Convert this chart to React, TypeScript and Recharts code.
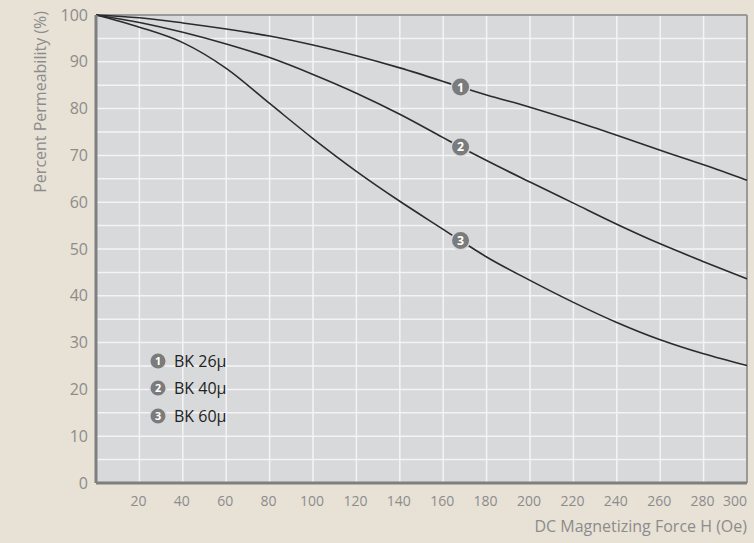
import { LineChart, Line, XAxis, YAxis, CartesianGrid, ReferenceLine, Label } from 'recharts';

// DC magnetizing force (Oe) and percent permeability
const forceOe = [0, 20, 40, 60, 80, 100, 120, 140, 160, 168, 180, 200, 220, 240, 260, 280, 300];
const bk26 = [100, 99.4, 98.3, 97.0, 95.5, 93.6, 91.3, 88.7, 85.8, 84.6, 82.9, 80.3, 77.4, 74.3, 71.1, 68.0, 64.7];
const bk40 = [100, 98.4, 96.3, 93.8, 90.9, 87.3, 83.3, 78.8, 73.8, 71.8, 68.9, 64.3, 59.8, 55.3, 51.1, 47.3, 43.6];
const bk60 = [100, 97.4, 94.1, 88.6, 81.1, 73.6, 66.6, 60.2, 54.2, 51.8, 48.3, 43.3, 38.6, 34.3, 30.6, 27.6, 25.1];

const seriesNames = ['BK 26μ', 'BK 40μ', 'BK 60μ'];
const seriesKeys = ['bk26', 'bk40', 'bk60'];
const markerAt = 168;

const xTicks = [20, 40, 60, 80, 100, 120, 140, 160, 180, 200, 220, 240, 260, 280, 300];
const yTicks = [0, 10, 20, 30, 40, 50, 60, 70, 80, 90, 100];
const xGrid = [20, 40, 60, 80, 100, 120, 140, 160, 180, 200, 220, 240, 260, 280];
const yGrid = [5, 10, 15, 20, 25, 30, 35, 40, 45, 50, 55, 60, 65, 70, 75, 80, 85, 90, 95];

const data = forceOe.map((x, i) => ({ x, bk26: bk26[i], bk40: bk40[i], bk60: bk60[i] }));
const markerIndex = forceOe.indexOf(markerAt);

const FONT = '"Open Sans", "Noto Sans", sans-serif';
const GREY = '#8c8c8c';

const NumberBadge = ({ cx, cy, n, r = 8 }: { cx: number; cy: number; n: number; r?: number }) => (
    <g>
        <circle cx={cx} cy={cy} r={r + 1.5} fill="#d8d9db" />
        <circle cx={cx} cy={cy} r={r} fill="#7b7b7b" />
        <text
            x={cx}
            y={cy}
            dy="0.36em"
            textAnchor="middle"
            fill="#fff"
            fontSize={r * 1.45}
            fontWeight={700}
            fontFamily={FONT}
        >
            {n}
        </text>
    </g>
);

const makeDot = (n: number) => (props: any) => {
    const { cx, cy, index } = props;
    if (index !== markerIndex) return <g key={`d${n}-${index}`} />;
    return (
        <g key={`d${n}-${index}`}>
            <NumberBadge cx={cx} cy={cy} n={n} r={8.5} />
        </g>
    );
};

const XTick = (props: any) => {
    const { x, y, payload } = props;
    const last = payload.value === xTicks[xTicks.length - 1];
    return (
        <text
            x={last ? x : x - 1}
            y={y + 15}
            textAnchor={last ? 'end' : 'middle'}
            fill={GREY}
            fontSize={14}
            fontFamily={FONT}
        >
            {payload.value}
        </text>
    );
};

const App = () => {
    return (
        <div style={{ position: 'relative', width: 754, height: 543, background: '#e8e1d6', fontFamily: FONT }}>
            <style>{`body{margin:0}`}</style>
            <LineChart width={754} height={543} data={data} margin={{ top: 15, right: 7, left: 0, bottom: 0 }}>
                <CartesianGrid
                    fill="#d8d9db"
                    stroke="#f4f4f4"
                    strokeWidth={1.5}
                    horizontalValues={yGrid}
                    verticalValues={xGrid}
                />
                <ReferenceLine y={100} stroke="#9a9a9a" strokeWidth={2} />
                <ReferenceLine x={300} stroke="#9a9a9a" strokeWidth={2} />
                <XAxis
                    dataKey="x"
                    type="number"
                    domain={[0, 300]}
                    ticks={xTicks}
                    interval={0}
                    height={60}
                    tickLine={false}
                    axisLine={{ stroke: '#7f7f7f', strokeWidth: 3 }}
                    tick={<XTick />}
                >
                    <Label
                        content={(p: any) => {
                            const vb = p.viewBox;
                            return (
                                <text
                                    x={vb.x + vb.width}
                                    y={532}
                                    textAnchor="end"
                                    fill={GREY}
                                    fontSize={16}
                                    fontFamily={FONT}
                                >
                                    DC Magnetizing Force H (Oe)
                                </text>
                            );
                        }}
                    />
                </XAxis>
                <YAxis
                    type="number"
                    domain={[0, 100]}
                    ticks={yTicks}
                    interval={0}
                    width={96}
                    tickLine={false}
                    axisLine={{ stroke: '#7f7f7f', strokeWidth: 3 }}
                    tick={{ fill: GREY, fontSize: 16, fontFamily: FONT }}
                >
                    <Label
                        content={() => (
                            <text
                                transform="translate(46, 11) rotate(-90)"
                                textAnchor="end"
                                fill={GREY}
                                fontSize={16}
                                fontFamily={FONT}
                            >
                                Percent Permeability (%)
                            </text>
                        )}
                    />
                </YAxis>
                {seriesKeys.map((k, i) => (
                    <Line
                        key={k}
                        type="monotone"
                        dataKey={k}
                        stroke="#2b2b2b"
                        strokeWidth={1.6}
                        dot={makeDot(i + 1)}
                        activeDot={false}
                        isAnimationActive={false}
                    />
                ))}
            </LineChart>
            <div style={{ position: 'absolute', left: 149, top: 347 }}>
                {seriesNames.map((name, i) => (
                    <div key={name} style={{ display: 'flex', alignItems: 'center', height: 27.5 }}>
                        <svg width={18} height={18} style={{ marginRight: 7 }}>
                            <NumberBadge cx={9} cy={9} n={i + 1} r={7.5} />
                        </svg>
                        <span style={{ fontSize: 16, color: '#222' }}>{name}</span>
                    </div>
                ))}
            </div>
        </div>
    );
};

export default App;
